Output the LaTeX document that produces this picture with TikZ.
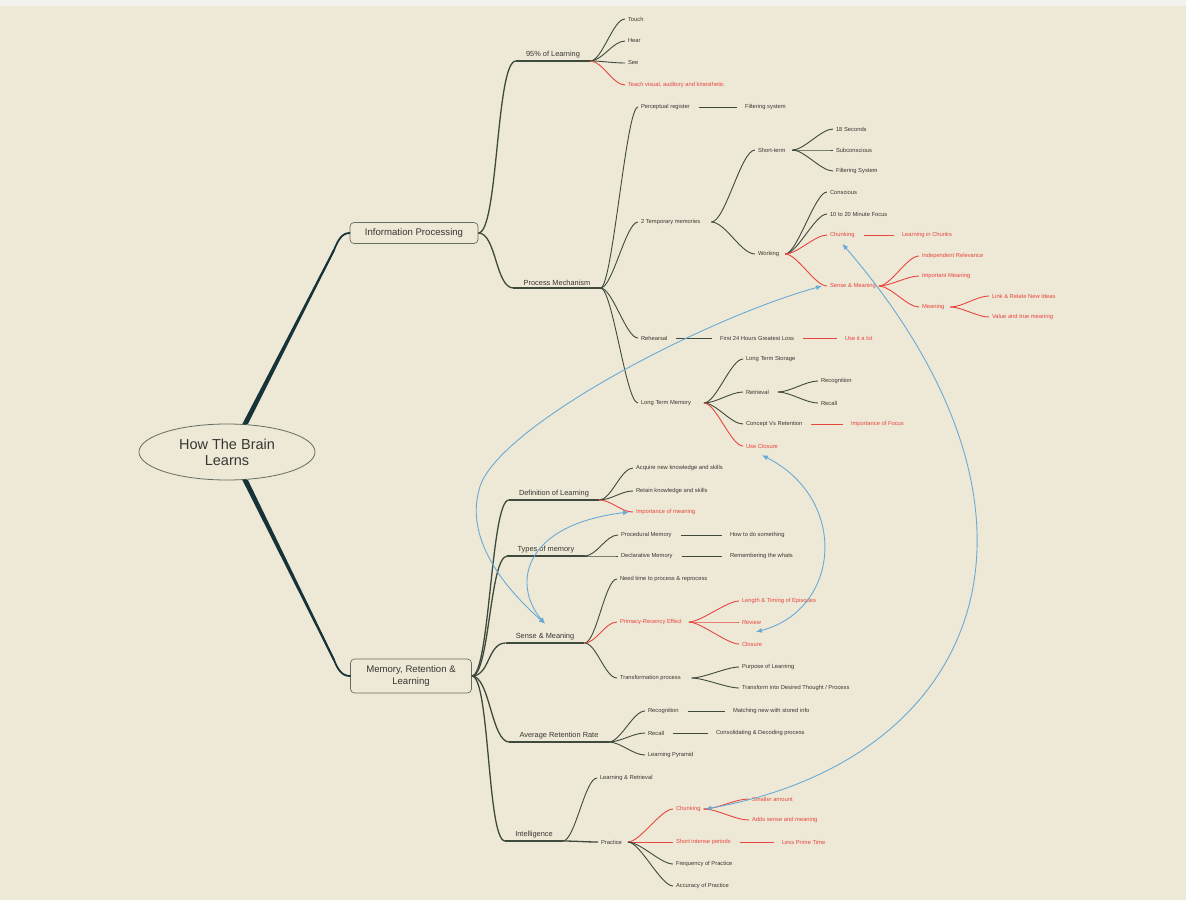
\documentclass[tikz,border=0pt]{standalone}
\usepackage{fontspec}
\setmainfont{Liberation Sans}
\usetikzlibrary{calc,arrows.meta,shapes.geometric}
\definecolor{bg}{RGB}{238,232,215}
\definecolor{topb}{RGB}{244,242,237}
\definecolor{brc}{RGB}{62,74,60}
\definecolor{trc}{RGB}{22,52,56}
\definecolor{redc}{RGB}{232,70,62}
\definecolor{bluec}{RGB}{105,170,212}
\definecolor{txt}{RGB}{55,55,50}
\tikzset{
  lf/.style={anchor=west, inner sep=0pt, outer sep=3pt, font=\fontsize{5.8}{7}\selectfont, text=txt},
  rlf/.style={lf, text=redc},
  mid/.style={anchor=south, inner xsep=10pt, inner ysep=2.5pt, font=\fontsize{7.4}{9}\selectfont, text=txt},
  br/.style={draw=brc, line width=0.9pt},
  rbr/.style={draw=redc, line width=0.9pt},
  lbr/.style={draw=brc, line width=1.3pt},
  lnk/.style={draw=brc, line width=1pt, shorten <=6pt, shorten >=5pt},
  rlnk/.style={lnk, draw=redc},
  rel/.style={draw=bluec, line width=0.9pt, {Latex[length=6pt,width=5pt]}-{Latex[length=6pt,width=5pt]}},
  trunk/.style={draw=trc, line width=1.8pt, line cap=round},
  topic/.style={draw=brc!80, rounded corners=4pt, line width=0.7pt, font=\fontsize{9.6}{11.5}\selectfont, text=txt, inner xsep=6pt, align=center},
}
\newcommand\cv[4][br]{\draw[#1] (#2) .. controls +(#4,0) and +(-#4,0) .. (#3);}
\newcommand\uline[1]{\draw[lbr] (#1.south west) -- (#1.south east);}
\begin{document}
\begin{tikzpicture}[x=1pt,y=-1pt]
\fill[bg] (0,0) rectangle (1186,900);
\fill[topb] (0,0) rectangle (1186,6);
\useasboundingbox (0,0) rectangle (1186,900);

% root and main topics
\node[draw=brc!80, ellipse, minimum width=176pt, minimum height=56pt, line width=0.8pt,
      font=\fontsize{14.5}{16}\selectfont, align=center, text=txt] (root) at (227,452) {How The Brain\\Learns};
\node[topic, minimum width=128pt, minimum height=21pt] (ip) at (414,233) {Information Processing};
\node[topic, minimum width=121pt, minimum height=34pt] (mrl) at (411,676) {Memory, Retention \&\\Learning};

\coordinate (t1) at (334,250);
\coordinate (t2) at (334,660);
\fill[trc] ([xshift=-2.8pt]root.57) -- ([xshift=2.8pt]root.57) -- ([xshift=1pt]t1) -- ([xshift=-1pt]t1) -- cycle;
\fill[trc] ([xshift=-2.8pt]root.-57) -- ([xshift=2.8pt]root.-57) -- ([xshift=1pt]t2) -- ([xshift=-1pt]t2) -- cycle;
\draw[trunk] (root.57) -- (t1) .. controls (338,240) and (342,233) .. (ip.west);
\draw[trunk] (root.-57) -- (t2) .. controls (338,670) and (342,676) .. (mrl.west);

% ---------- Information Processing ----------
\node[mid] (l95) at (553,61) {95\% of Learning};
\uline{l95}
\cv[lbr]{ip.east}{l95.south west}{20}
\node[lf] (tch) at (625,19) {Touch};
\node[lf] (hear) at (625,41) {Hear};
\node[lf] (see) at (625,63) {See};
\node[rlf] (tvak) at (625,85) {Teach visual, auditory and kinesthetic};
\cv{l95.south east}{tch.west}{12}
\cv{l95.south east}{hear.west}{12}
\cv{l95.south east}{see.west}{12}
\cv[rbr]{l95.south east}{tvak.west}{12}

\node[mid] (pm) at (557,288) {Process Mechanism};
\uline{pm}
\cv[lbr]{ip.east}{pm.south west}{18}
\node[lf] (pr) at (638,107) {Perceptual register};
\node[lf] (fs1) at (742,107) {Filtering system};
\draw[lnk] (pr.east) -- (fs1.west);
\node[lf] (tm) at (638,222) {2 Temporary memories};
\node[lf] (rh) at (638,338) {Rehearsal};
\node[lf] (ltm) at (638,403) {Long Term Memory};
\cv{pm.south east}{pr.west}{12}
\cv{pm.south east}{tm.west}{12}
\cv{pm.south east}{rh.west}{12}
\cv{pm.south east}{ltm.west}{12}

\node[lf] (st) at (755,150) {Short-term};
\node[lf] (wk) at (755,254) {Working};
\cv{[xshift=8pt]tm.east}{st.west}{14}
\cv{[xshift=8pt]tm.east}{wk.west}{14}

\node[lf] (s18) at (833,129) {18 Seconds};
\node[lf] (sub) at (833,150) {Subconscious};
\node[lf] (fs2) at (833,171) {Filtering System};
\cv{[xshift=4pt]st.east}{s18.west}{12}
\cv{[xshift=4pt]st.east}{sub.west}{12}
\cv{[xshift=4pt]st.east}{fs2.west}{12}

\node[lf] (con) at (827,192) {Conscious};
\node[lf] (foc) at (827,214) {10 to 20 Minute Focus};
\node[rlf] (chw) at (827,235) {Chunking};
\node[rlf] (smw) at (827,286) {Sense \& Meaning};
\cv{[xshift=3pt]wk.east}{con.west}{12}
\cv{[xshift=3pt]wk.east}{foc.west}{12}
\cv[rbr]{[xshift=3pt]wk.east}{chw.west}{12}
\cv[rbr]{[xshift=3pt]wk.east}{smw.west}{12}
\node[rlf] (lic) at (899,235) {Learning in Chunks};
\draw[rlnk] (chw.east) -- (lic.west);

\node[rlf] (indr) at (919,256) {Independent Relevance};
\node[rlf] (impm) at (919,276) {Important Meaning};
\node[rlf] (mean) at (919,307) {Meaning};
\cv[rbr]{smw.east}{indr.west}{12}
\cv[rbr]{smw.east}{impm.west}{12}
\cv[rbr]{smw.east}{mean.west}{12}
\node[rlf] (lrn) at (989,296) {Link \& Relate New Ideas};
\node[rlf] (vtm) at (989,317) {Value and true meaning};
\cv[rbr]{[xshift=3pt]mean.east}{lrn.west}{12}
\cv[rbr]{[xshift=3pt]mean.east}{vtm.west}{12}

\node[lf] (f24) at (717,338) {First 24 Hours Greatest Loss};
\draw[lnk] (rh.east) -- (f24.west);
\node[rlf] (uil) at (842,338) {Use it a lot};
\draw[rlnk] (f24.east) -- (uil.west);

\node[lf] (lts) at (743,359) {Long Term Storage};
\node[lf] (ret) at (743,392) {Retrieval};
\node[lf] (cvr) at (743,424) {Concept Vs Retention};
\node[rlf] (ucl) at (743,446) {Use Closure};
\cv{[xshift=10pt]ltm.east}{lts.west}{12}
\cv{[xshift=10pt]ltm.east}{ret.west}{12}
\cv{[xshift=10pt]ltm.east}{cvr.west}{12}
\cv[rbr]{[xshift=10pt]ltm.east}{ucl.west}{12}
\node[lf] (rcg1) at (818,381) {Recognition};
\node[lf] (rcl1) at (818,403) {Recall};
\cv{[xshift=6pt]ret.east}{rcg1.west}{12}
\cv{[xshift=6pt]ret.east}{rcl1.west}{12}
\node[rlf] (iof) at (848,424) {Importance of Focus};
\draw[rlnk] (cvr.east) -- (iof.west);

% ---------- Memory, Retention & Learning ----------
\node[mid] (dol) at (554,500) {Definition of Learning};
\uline{dol}
\cv[lbr]{mrl.east}{dol.south west}{18}
\node[lf] (acq) at (633,468) {Acquire new knowledge and skills};
\node[lf] (rtn) at (633,491) {Retain knowledge and skills};
\node[rlf] (imp) at (633,512) {Importance of meaning};
\cv{dol.south east}{acq.west}{12}
\cv{dol.south east}{rtn.west}{12}
\cv[rbr]{dol.south east}{imp.west}{12}

\node[mid] (tom) at (546,556) {Types of memory};
\uline{tom}
\cv[lbr]{mrl.east}{tom.south west}{18}
\node[lf] (prm) at (618,535) {Procedural Memory};
\node[lf] (dcm) at (618,556) {Declarative Memory};
\cv{tom.south east}{prm.west}{12}
\cv{tom.south east}{dcm.west}{12}
\node[lf] (htd) at (727,535) {How to do something};
\node[lf] (rtw) at (727,556) {Remembering the whats};
\draw[lnk] (prm.east) -- (htd.west);
\draw[lnk] (dcm.east) -- (rtw.west);

\node[mid] (sm) at (545,643) {Sense \& Meaning};
\uline{sm}
\cv[lbr]{mrl.east}{sm.south west}{18}
\node[lf] (ntp) at (617,579) {Need time to process \& reprocess};
\node[rlf] (prim) at (617,622) {Primacy-Recency Effect};
\node[lf] (trp) at (617,678) {Transformation process};
\cv{sm.south east}{ntp.west}{12}
\cv[rbr]{sm.south east}{prim.west}{12}
\cv{sm.south east}{trp.west}{12}
\node[rlf] (lte) at (739,601) {Length \& Timing of Episodes};
\node[rlf] (rev) at (739,622) {Review};
\node[rlf] (clo) at (739,644) {Closure};
\cv[rbr]{[xshift=4pt]prim.east}{lte.west}{12}
\cv[rbr]{[xshift=4pt]prim.east}{rev.west}{12}
\cv[rbr]{[xshift=4pt]prim.east}{clo.west}{12}
\node[lf] (pol) at (739,667) {Purpose of Learning};
\node[lf] (tid) at (739,688) {Transform into Desired Thought / Process};
\cv{[xshift=8pt]trp.east}{pol.west}{12}
\cv{[xshift=8pt]trp.east}{tid.west}{12}

\node[mid] (arr) at (559,742) {Average Retention Rate};
\uline{arr}
\cv[lbr]{mrl.east}{arr.south west}{18}
\node[lf] (rcg2) at (645,711) {Recognition};
\node[lf] (rcl2) at (645,733) {Recall};
\node[lf] (lpy) at (645,755) {Learning Pyramid};
\cv{arr.south east}{rcg2.west}{12}
\cv{arr.south east}{rcl2.west}{12}
\cv{arr.south east}{lpy.west}{12}
\node[lf] (mns) at (730,711) {Matching new with stored info};
\node[lf] (cdp) at (713,733) {Consolidating \& Decoding process};
\draw[lnk] (rcg2.east) -- (mns.west);
\draw[lnk] (rcl2.east) -- (cdp.west);

\node[mid] (intel) at (534,841) {Intelligence};
\uline{intel}
\cv[lbr]{mrl.east}{intel.south west}{18}
\node[lf] (lr) at (597,778) {Learning \& Retrieval};
\node[lf] (prac) at (598,842) {Practice};
\cv{intel.south east}{lr.west}{12}
\cv[lbr]{intel.south east}{prac.west}{12}
\node[rlf] (chp) at (673,809) {Chunking};
\node[rlf] (sip) at (673,842) {Short intense periods};
\node[lf] (fop) at (673,864) {Frequency of Practice};
\node[lf] (aop) at (673,886) {Accuracy of Practice};
\cv[rbr]{[xshift=3pt]prac.east}{chp.west}{12}
\cv[rbr]{[xshift=3pt]prac.east}{sip.west}{12}
\cv{[xshift=3pt]prac.east}{fop.west}{12}
\cv{[xshift=3pt]prac.east}{aop.west}{12}
\node[rlf] (sma) at (749,799) {Smaller amount};
\node[rlf] (asm) at (749,820) {Adds sense and meaning};
\cv[rbr]{chp.east}{sma.west}{14}
\cv[rbr]{chp.east}{asm.west}{14}
\node[rlf] (lpt) at (779,842) {Less Prime Time};
\draw[rlnk] (sip.east) -- (lpt.west);

% ---------- relationships ----------
\coordinate (a1) at (479,490);
\draw[rel] ([yshift=7pt]sm.north) .. controls (490,575) and (468,530) .. (a1)
   .. controls (492,430) and (700,320) .. ([xshift=-5pt]smw.west);
\draw[rel] ([yshift=7pt]sm.north) .. controls (512,585) and (522,525) .. ([xshift=-4pt]imp.west);
\draw[rel] ([yshift=-4pt]ucl.south) .. controls (850,500) and (840,610) .. ([xshift=4pt,yshift=7pt]clo.north);
\draw[rel] ([yshift=-3pt]chw.south) .. controls (1080,520) and (980,760) .. ([xshift=2pt]chp.east);
\end{tikzpicture}
\end{document}
